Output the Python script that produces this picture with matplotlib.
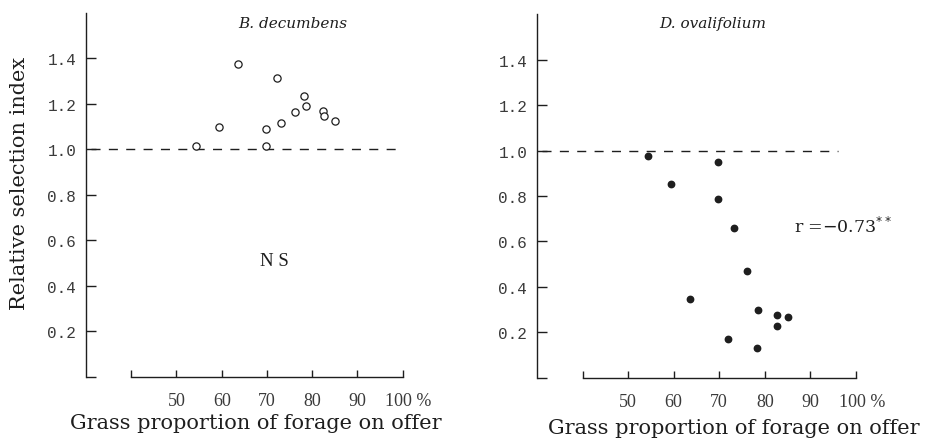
import matplotlib
matplotlib.use("Agg")
import matplotlib.pyplot as plt
from matplotlib.transforms import ScaledTranslation

# Grass proportion of forage on offer (%) and relative selection index
bd_grass = [54.4, 59.3, 63.6, 69.7, 69.7, 72.2, 73.2, 76.2, 78.3, 78.6, 82.4, 82.6, 85.0]
bd_index = [1.016, 1.097, 1.374, 1.088, 1.016, 1.315, 1.114, 1.163, 1.236, 1.189, 1.168, 1.145, 1.126]

do_grass = [54.4, 59.5, 69.7, 69.7, 73.2, 76.2, 63.6, 78.6, 82.6, 85.0, 82.6, 72.0, 78.2]
do_index = [0.977, 0.851, 0.948, 0.786, 0.657, 0.468, 0.346, 0.299, 0.274, 0.267, 0.228, 0.168, 0.129]

x_ticks = [40, 50, 60, 70, 80, 90, 100]
x_labels = ["", "50", "60", "70", "80", "90", "100 %"]
y_ticks = [0, 0.2, 0.4, 0.6, 0.8, 1.0, 1.2, 1.4]
y_labels = ["", "0.2", "0.4", "0.6", "0.8", "1.0", "1.2", "1.4"]

INK = "#1e1e1e"
SERIF = "DejaVu Serif"
TICKFONT = "Liberation Mono"

fig = plt.figure(figsize=(9.26, 4.39), dpi=100)
ax1 = fig.add_axes([0.0929, 0.1394, 0.3517, 0.829])
ax2 = fig.add_axes([0.5799, 0.1378, 0.3542, 0.8273])


def style(ax, dash_end):
    ax.set_xlim(30, 102)
    ax.set_ylim(0, 1.6)
    for s in ("top", "right"):
        ax.spines[s].set_visible(False)
    for s in ("left", "bottom"):
        ax.spines[s].set_color(INK)
        ax.spines[s].set_linewidth(1.0)
    ax.spines["bottom"].set_bounds(40, 100)
    ax.set_xticks(x_ticks)
    ax.set_xticklabels(x_labels, fontfamily="Liberation Serif", fontsize=13, color="#3a3a3a")
    ax.set_yticks(y_ticks)
    ax.set_yticklabels(y_labels, fontfamily=TICKFONT, fontsize=11.5, color="#3a3a3a")
    ax.tick_params(axis="x", direction="in", length=5, width=1.0, color=INK, pad=11)
    ax.tick_params(axis="y", direction="in", length=7, width=1.0, color=INK, pad=7)
    # the "100 %" label sits a little right of its tick
    last = ax.get_xticklabels()[-1]
    last.set_transform(last.get_transform() + ScaledTranslation(6 / 100, 0, fig.dpi_scale_trans))
    ax.axhline(1.0, xmin=(31 - 30) / 72, xmax=(dash_end - 30) / 72, color=INK,
               linewidth=1.0, linestyle=(0, (6.5, 6)))


style(ax1, 99)
style(ax2, 96)

# B. decumbens: open circles
ax1.plot(bd_grass, bd_index, linestyle="none", marker="o", markersize=5.2,
         markerfacecolor="white", markeredgecolor=INK, markeredgewidth=0.9, zorder=3)
ax1.text(75.8, 1.555, "B. decumbens", fontfamily=SERIF, fontstyle="italic",
         fontsize=11, ha="center", va="center", color=INK)
ax1.text(71.7, 0.51, "N S", fontfamily="Liberation Serif", fontsize=13.5,
         ha="center", va="center", color=INK)
ax1.set_ylabel("Relative selection index", fontfamily=SERIF, fontsize=15,
               color=INK)
ax1.yaxis.set_label_coords(-0.175, 0.534)
ax1.set_xlabel("Grass proportion of forage on offer", fontfamily=SERIF,
               fontsize=15, color=INK)
ax1.xaxis.set_label_coords(0.52, -0.100)

# D. ovalifolium: filled dots
ax2.plot(do_grass, do_index, linestyle="none", marker="o", markersize=4.6,
         markerfacecolor=INK, markeredgecolor=INK, zorder=3)
ax2.text(68.5, 1.56, "D. ovalifolium", fontfamily=SERIF, fontstyle="italic",
         fontsize=11, ha="center", va="center", color=INK)
ax2.text(86.5, 0.667, r"r =$-$0.73$^{**}$", fontfamily=SERIF,
         fontsize=12.5, ha="left", va="center", color=INK)
ax2.set_xlabel("Grass proportion of forage on offer", fontfamily=SERIF,
               fontsize=15, color=INK)
ax2.xaxis.set_label_coords(0.60, -0.111)

fig.savefig("out.png", dpi=100)
